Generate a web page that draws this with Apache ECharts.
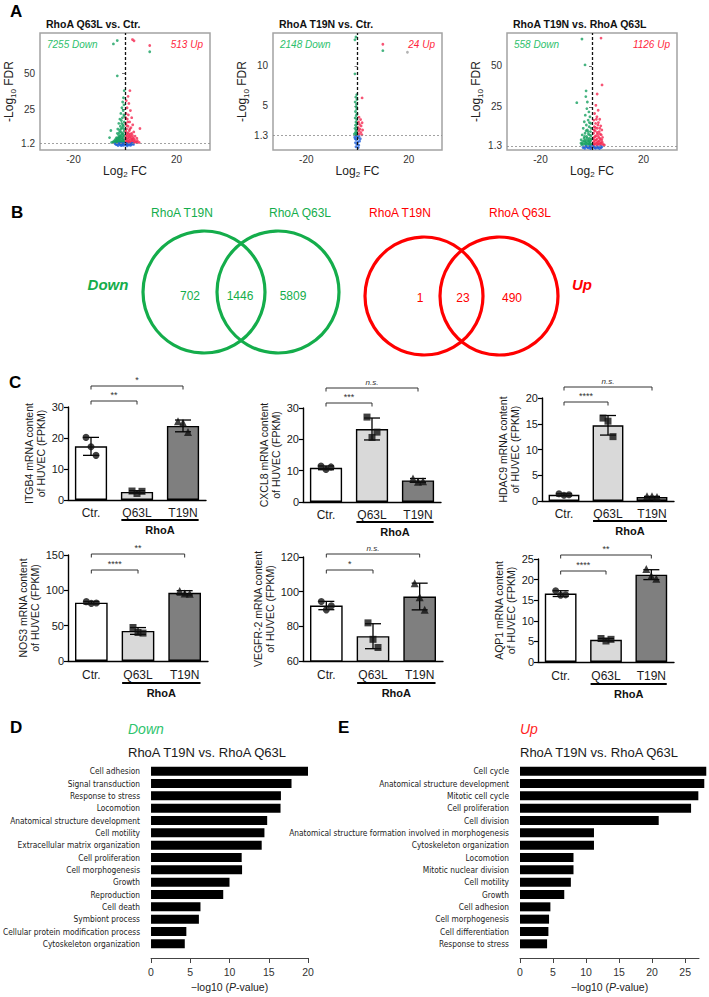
<!DOCTYPE html>
<html><head><meta charset="utf-8">
<script src="https://cdn.jsdelivr.net/npm/echarts@6/dist/echarts.min.js"></script>
<style>html,body{margin:0;padding:0;background:#fff}#c{width:709px;height:997px}</style>
</head><body><div id="c"></div>
<script>
// ================= DATA =================
// ---- Panel A: volcano plots
const volcanoTitles = ['RhoA Q63L vs. Ctr.', 'RhoA T19N vs. Ctr.', 'RhoA T19N vs. RhoA Q63L'];
const volcanoDownCounts = [7255, 2148, 558];
const volcanoUpCounts = [513, 24, 1126];
const volcanoFdrCutoffs = [1.2, 1.3, 1.3];
const volcanoYTicks = [[1.2, 25, 50], [1.3, 5, 10], [1.3, 25, 50]];
const volcanoXTicks = [-20, 20];

const q63lVsCtrDown = [[-0.3,38],[-0.6,33],[-0.9,30],[-0.4,28],[-1.2,26],[-0.7,24],[-1.6,22],[-0.5,21],[-1.0,19],[-2.0,18],[-1.4,17],[-0.3,16],[-2.4,15],[-0.8,14],[-1.8,13],[-1.1,12],[-2.8,11],[-0.5,11],[-2.1,10],[-1.5,9],[-3.0,8],[-0.9,8],[-2.5,7],[-1.9,6],[-0.4,6],[-3.3,5],[-2.7,5],[-1.3,5],[-3.6,4],[-2.2,4],[-0.7,4],[-4.0,3],[-3.0,3],[-1.7,3],[-0.4,3],[-4.4,2.2],[-3.4,2.2],[-2.5,2.2],[-1.5,2.2],[-0.6,2.2],[-5.2,1.6],[-3.9,1.6],[-2.9,1.6],[-2.0,1.6],[-1.1,1.6],[-5.5,10],[-6,5],[-3,73.2],[-4.5,70.8],[-3,48.4],[9.6,65.3],
  [-0.2,20],[-1.3,15],[-0.6,13],[-1.6,11],[-0.3,9.5],[-1.2,7.5],[-2.2,8.5],[-0.6,7],[-1.6,6.5],[-2.3,5.5],[-0.9,5.5],[-3.0,4.2],[-1.9,4.5],[-1.1,3.8],[-2.6,3.2],[-3.6,2.6],[-2.1,2.7],[-0.9,2.7],[-4.6,1.9],[-3.3,1.9],[-1.6,1.8],[-0.4,1.7]];
const q63lVsCtrUp = [[1.9,38],[1.2,34],[0.5,31],[1.5,29],[0.8,26],[2.1,24],[0.4,22],[1.3,21],[2.6,19],[0.9,18],[1.8,16],[0.3,15],[3.0,14],[1.2,13],[2.3,12],[5.8,11.4],[0.6,11],[1.7,10],[3.4,9],[2.6,8],[0.8,8],[1.5,7],[3.9,6],[2.2,6],[0.4,6],[3.1,5],[4.6,4.5],[1.2,5],[2.6,4],[0.6,4],[3.7,3.5],[1.9,3],[4.8,2.8],[3.0,2.5],[1.0,2.5],[4.2,1.8],[2.4,1.8],[0.5,1.8],[5.5,1.6],[3.4,1.5],[1.5,1.5],[2.9,73.9],[3.5,73],[9.6,69.7],
  [0.3,19],[1.1,16],[0.6,13.5],[1.9,11],[0.3,9.5],[1.2,8.5],[2.1,7.5],[0.9,6.5],[2.9,6.5],[1.7,5.5],[0.3,4.5],[2.2,4.6],[3.3,4.2],[1.4,3.7],[2.7,3.1],[0.4,2.8],[1.4,2.1],[3.8,2.3],[2.0,1.5],[4.7,1.6],[0.9,1.6]];
const q63lVsCtrNs = [[-3.8,0.6],[-3,0.2],[-2.4,0.9],[-1.8,-0.2],[-1.2,0.5],[-0.6,-0.5],[0,0.3],[0.6,0.9],[1.2,-0.1],[1.8,0.6],[2.4,0.1],[3.0,0.7],[-2.7,-0.6],[-0.3,1.0],[0.9,-0.7],[2.1,-0.5],
  [-3.4,0.1],[-2.1,0.4],[-1.5,0.9],[-0.9,0.1],[0.3,-0.2],[1.5,0.4],[2.7,1.0],[-1.4,-0.6],[0.4,0.5],[3.3,0.2]];

const t19nVsCtrDown = [[-1,13.25],[-0.6,13.6],[-1,9],[-0.3,6.4],[-0.7,6.1],[-0.2,5.8],[-0.9,5.5],[-0.4,5.2],[-0.6,4.9],[-0.3,4.6],[-0.8,4.3],[-0.2,4.0],[-0.5,3.8],[-0.9,3.5],[-0.3,3.3],[-0.6,3.0],[-0.2,2.8],[-0.8,2.6],[-0.4,2.4],[-1.0,2.2],[-0.6,2.0],[-0.2,1.9],[-0.8,1.7],[-0.4,1.6],[-1.2,1.5],[-0.6,1.4],[-0.3,1.35],[9.9,11.9]];
const t19nVsCtrUp = [[9.9,12.7],[1.8,6.0],[0.6,3.6],[1.2,3.3],[0.4,3.0],[1.8,2.9],[0.8,2.7],[1.4,2.5],[0.3,2.3],[1.0,2.1],[2.0,2.0],[0.5,1.9],[1.3,1.7],[0.7,1.5],[1.7,1.4]];
const t19nVsCtrNs = [[-1.1,1.1],[-0.5,0.8],[0.2,1.0],[0.8,0.6],[-0.8,0.4],[-0.2,0.2],[0.5,0.1],[1.1,0.9],[-0.6,-0.1],[0.1,0.5],[-0.3,1.2],[0.6,1.2],[-0.9,0.9],[0.3,-0.2]];
const t19nVsCtrOther = [[19.5,11.7]];

const t19nVsQ63lDown = [[-3.9,66.3],[-2.7,50.6],[-5.9,27.6],[-2.4,31.3],[-2.3,34.8],[-1.8,28],[-2.0,24],[-1.2,22],[-2.6,20],[-0.8,19],[-1.5,17],[-3.0,16],[-0.5,15],[-2.2,14],[-1.1,13],[-3.4,12],[-1.8,11],[-0.6,10],[-2.7,9],[-1.4,8.5],[-3.8,8],[-0.4,7.5],[-2.1,7],[-3.1,6],[-1.0,6],[-4.2,5],[-2.5,5],[-1.6,4.5],[-0.5,4.5],[-3.6,4],[-2.8,3.5],[-1.2,3.5],[-4.3,3],[-2.0,3],[-0.7,2.8],[-3.3,2.3],[-1.6,2.3],[-0.3,2.2],
  [-1.0,15.5],[-0.4,12],[-1.5,10],[-2.3,10.5],[-0.9,8],[-1.9,6],[-2.9,7],[-0.3,5.5],[-1.3,5],[-3.0,4.5],[-2.2,3.9],[-0.9,3.9],[-3.8,2.8],[-2.6,2.6],[-1.1,2.5],[-4.0,2.0],[-2.3,1.9],[-0.8,1.9]];
const t19nVsQ63lUp = [[3.5,66.9],[3.9,38.4],[2.0,32.9],[1.5,26],[2.4,23],[1.0,21],[1.9,19],[3.0,17.5],[0.7,17],[2.5,15.5],[1.4,15],[3.4,13.5],[0.9,13],[2.0,12],[3.8,11],[1.2,10.5],[2.8,10],[0.6,9],[2.2,8.5],[3.6,8],[1.6,7.5],[4.1,6.5],[0.8,6.5],[2.9,6],[1.9,5.5],[3.8,5],[1.0,4.5],[2.5,4],[4.0,3.5],[0.6,3.5],[1.7,3],[3.2,2.8],[2.4,2.3],[0.9,2.2],[4.4,2.2],[3.6,1.9],
  [1.7,17.5],[2.3,14],[1.3,12.5],[3.0,12],[0.8,11],[2.0,9.5],[3.2,8.5],[1.2,7],[2.5,7],[0.5,5.5],[3.3,5.5],[1.5,4.8],[2.9,4.3],[2.1,3.5],[3.6,3.2],[1.2,2.6],[2.8,2.4],[1.9,1.9],[0.5,1.8],[4.8,1.8]];
const t19nVsQ63lNs = [[-3.1,0.6],[-2.4,1.0],[-1.7,0.3],[-1.0,0.9],[-0.3,0.4],[0.4,1.0],[1.1,0.2],[1.8,0.8],[2.5,0.4],[3.2,0.9],[3.5,0.2],[-2.8,-0.2],[-0.6,-0.3],[1.4,-0.2],[2.9,-0.3],
  [-2.0,0.7],[-1.3,0.1],[0.0,0.8],[0.8,0.5],[2.2,0.1],[3.8,0.7],[-3.5,0.3]];

// ---- Panel B: Venn
const vennSetNames = ['RhoA T19N', 'RhoA Q63L'];
const vennDownCounts = [702, 1446, 5809];
const vennUpCounts = [1, 23, 490];
const vennDirections = ['Down', 'Up'];

// ---- Panel C: bar charts
const barGroups = ['Ctr.', 'Q63L', 'T19N'];
const barGroupLabel = 'RhoA';
const geneNames = ['ITGB4', 'CXCL8', 'HDAC9', 'NOS3', 'VEGFR-2', 'AQP1'];
const itgb4Mean = [17.3, 2.6, 23.9];  const itgb4Sd = [2.9, 0.4, 1.9];
const itgb4Reps = [[20.2, 17.2, 14.4], [2.9, 2.1, 2.8], [25.4, 24.9, 21.9]];
const itgb4Sig = ['**', '*'];
const cxcl8Mean = [10.9, 23.3, 6.9];  const cxcl8Sd = [0.6, 3.5, 0.6];
const cxcl8Reps = [[11.5, 10.4, 11.2], [27.1, 20.6, 22.3], [7.5, 6.5, 6.6]];
const cxcl8Sig = ['***', 'n.s.'];
const hdac9Mean = [1.2, 14.7, 0.8];   const hdac9Sd = [0.2, 1.9, 0.1];
const hdac9Reps = [[1.4, 1.1, 1.2], [16.1, 15.5, 12.5], [0.9, 0.9, 0.8]];
const hdac9Sig = ['****', 'n.s.'];
const nos3Mean = [82.5, 42.5, 96.5];  const nos3Sd = [1.8, 4.8, 3.0];
const nos3Reps = [[84, 81.5, 82], [47.4, 40.3, 39.5], [99, 95.5, 95]];
const nos3Sig = ['****', '**'];
const vegfr2Mean = [92, 74.3, 97.2];  const vegfr2Sd = [2.4, 7.2, 7.7];
const vegfr2Reps = [[94.3, 89.5, 91.8], [82, 72.5, 67.8], [104.8, 96.8, 89.5]];
const vegfr2Sig = ['*', 'n.s.'];
const aqp1Mean = [16.6, 5.4, 21.2];   const aqp1Sd = [0.7, 0.3, 1.2];
const aqp1Reps = [[17.3, 16.2, 16.3], [5.7, 5.1, 5.5], [22.6, 20.9, 20.2]];
const aqp1Sig = ['****', '**'];
const barYAxes = [[0, 30, 10], [0, 30, 10], [0, 20, 5], [0, 150, 50], [60, 120, 20], [0, 25, 5]];

// ---- Panels D / E: GO enrichment
const goComparison = 'RhoA T19N vs. RhoA Q63L';
const downTerms = ['Cell adhesion','Signal transduction','Response to stress','Locomotion','Anatomical structure development','Cell motility','Extracellular matrix organization','Cell proliferation','Cell morphogenesis','Growth','Reproduction','Cell death','Symbiont process','Cellular protein modification process','Cytoskeleton organization'];
const downValues = [20.0, 17.9, 16.55, 16.5, 14.8, 14.45, 14.1, 11.55, 11.6, 10.0, 9.2, 6.3, 6.1, 4.5, 4.3];
const upTerms = ['Cell cycle','Anatomical structure development','Mitotic cell cycle','Cell proliferation','Cell division','Anatomical structure formation involved in morphogenesis','Cytoskeleton organization','Locomotion','Mitotic nuclear division','Cell motility','Growth','Cell adhesion','Cell morphogenesis','Cell differentiation','Response to stress'];
const upValues = [28.2, 27.9, 27.0, 25.9, 21.0, 11.2, 11.2, 8.1, 8.1, 7.7, 6.7, 4.6, 4.4, 4.3, 4.1];
const goXTicksDown = [0, 5, 10, 15, 20];
const goXTicksUp = [0, 5, 10, 15, 20, 25];

// ================= STYLE / LAYOUT =================
const FONT = 'Liberation Sans, Arial, Helvetica, sans-serif';
const NARROW = 'Liberation Sans Narrow, Arial Narrow, DejaVu Sans Condensed, Liberation Sans, sans-serif';
const GREEN = '#14ad4b', RED = '#ff0000';
const volcanoColors = {down: '#17a060', up: '#f52a52', ns: '#1e5fd8', other: '#a0a0a0', downText: '#2dbf6c', upText: '#ff1f3d'};
const volcanoGrids = [
  {left: 40, top: 33, width: 170, height: 117},
  {left: 273, top: 33, width: 169, height: 117},
  {left: 507, top: 33, width: 170, height: 117}
];
const volcanoYRanges = [[-3.7, 78.5], [-0.5, 14.1], [-1.2, 70]];
const barGrids = [
  {left: 68, top: 407, width: 138, height: 93},
  {left: 303, top: 408, width: 138, height: 94},
  {left: 542, top: 398, width: 132, height: 103},
  {left: 68, top: 555, width: 140, height: 106},
  {left: 303, top: 557, width: 140, height: 104},
  {left: 538, top: 559, width: 136, height: 103}
];
const barFills = ['#ffffff', '#d9d9d9', '#7f7f7f'];
const barSymbols = ['circle', 'rect', 'triangle'];
const jitterPx = [-5, 0, 5];
const rowBracketOffsets = [[99, 114], [91, 107]];
const rowLabelMargin = [7, 8];
const rowGroupLine = [[20, 30], [22, 32]];

const option = {animation: false, backgroundColor: '#ffffff', textStyle: {fontFamily: FONT},
  grid: [], xAxis: [], yAxis: [], series: [], graphic: []};

function addCartesian(g, x, y) {
  const gi = option.grid.length;
  option.grid.push(Object.assign({containLabel: false}, g));
  option.xAxis.push(Object.assign({gridIndex: gi}, x));
  option.yAxis.push(Object.assign({gridIndex: gi}, y));
  return gi;
}
function addText(x, y, text, style) {
  option.graphic.push({type: 'text', x: x, y: y, silent: true,
    style: Object.assign({text: String(text), fontFamily: FONT, fill: '#111', align: 'left', verticalAlign: 'middle', fontSize: 12}, style)});
}

// Panel letters
[['A', 10, 11], ['B', 11, 212], ['C', 9, 382], ['D', 10, 727], ['E', 338, 727]].forEach(p =>
  addText(p[1], p[2], p[0], {fontSize: 17, fontWeight: 'bold', fill: '#000'}));

// ---------- Panel A ----------
const subRich = {
  t: {fontSize: 12, lineHeight: 16, color: '#222', fontFamily: FONT},
  s: {fontSize: 8, lineHeight: 9, verticalAlign: 'bottom', color: '#222', fontFamily: FONT}
};
const volcanoSets = [
  {down: q63lVsCtrDown, up: q63lVsCtrUp, ns: q63lVsCtrNs, other: []},
  {down: t19nVsCtrDown, up: t19nVsCtrUp, ns: t19nVsCtrNs, other: t19nVsCtrOther},
  {down: t19nVsQ63lDown, up: t19nVsQ63lUp, ns: t19nVsQ63lNs, other: []}
];
volcanoSets.forEach((set, k) => {
  const g = volcanoGrids[k];
  const gi = addCartesian(
    Object.assign({show: true, borderColor: '#a3a3a3', borderWidth: 1.5, backgroundColor: '#fff'}, g),
    {type: 'value', min: -33, max: 33, splitLine: {show: false}, axisLine: {show: false},
      axisTick: {show: false, customValues: volcanoXTicks},
      axisLabel: {customValues: volcanoXTicks, fontSize: 10, color: '#333', margin: 4},
      name: '{t|Log}{s|2}{t| FC}', nameLocation: 'middle', nameGap: 11, nameTextStyle: {rich: subRich}},
    {type: 'value', min: volcanoYRanges[k][0], max: volcanoYRanges[k][1], splitLine: {show: false}, axisLine: {show: false},
      axisTick: {show: true, customValues: volcanoYTicks[k], length: 3, lineStyle: {color: '#777'}},
      axisLabel: {customValues: volcanoYTicks[k], fontSize: 10, color: '#333', margin: 5},
      name: '{t|-Log}{s|10}{t| FDR}', nameLocation: 'middle', nameGap: 20, nameTextStyle: {rich: subRich}}
  );
  const base = {type: 'scatter', xAxisIndex: gi, yAxisIndex: gi, symbolSize: 2.8, silent: true};
  option.series.push(Object.assign({}, base, {data: set.other, itemStyle: {color: volcanoColors.other}}));
  option.series.push(Object.assign({}, base, {data: set.down, itemStyle: {color: volcanoColors.down}}));
  option.series.push(Object.assign({}, base, {data: set.up, itemStyle: {color: volcanoColors.up}}));
  option.series.push(Object.assign({}, base, {data: set.ns, itemStyle: {color: volcanoColors.ns}, z: 3,
    markLine: {silent: true, symbol: ['none', 'none'], label: {show: false}, animation: false,
      data: [
        {xAxis: 0, lineStyle: {color: '#111', type: [3, 2], width: 1.3}},
        {yAxis: volcanoFdrCutoffs[k], lineStyle: {color: '#8a8a8a', type: [2, 2], width: 0.8}}
      ]}}));
  addText(g.left + 6, g.top - 9, volcanoTitles[k], {fontSize: 10.5, fontWeight: 'bold', fill: '#111'});
  addText(g.left + 7, g.top + 11, volcanoDownCounts[k] + ' Down', {fontSize: 10, fontStyle: 'italic', fill: volcanoColors.downText});
  addText(g.left + g.width - 7, g.top + 11, volcanoUpCounts[k] + ' Up', {fontSize: 10, fontStyle: 'italic', fill: volcanoColors.upText, align: 'right'});
});

// ---------- Panel B ----------
const vennLayout = [
  {color: GREEN, centers: [[204, 292], [278, 292]], r: 61, headerX: [182, 300], headerY: 213, countX: [190, 240, 293], countY: 296, dirX: 108, dirY: 284, counts: vennDownCounts},
  {color: RED, centers: [[424, 296], [499, 296]], r: 59, headerX: [400, 520], headerY: 213, countX: [420, 463, 512], countY: 298, dirX: 582, dirY: 284, counts: vennUpCounts}
];
vennLayout.forEach((v, k) => {
  v.centers.forEach(c => option.graphic.push({type: 'circle', silent: true, shape: {cx: c[0], cy: c[1], r: v.r},
    style: {fill: 'none', stroke: v.color, lineWidth: 3.2}}));
  vennSetNames.forEach((n, i) => addText(v.headerX[i], v.headerY, n, {fill: v.color, align: 'center', fontSize: 12}));
  v.counts.forEach((n, i) => addText(v.countX[i], v.countY, n, {fill: v.color, align: 'center', fontSize: 12}));
  addText(v.dirX, v.dirY, vennDirections[k], {fill: v.color, align: 'center', fontSize: 15, fontWeight: 'bold', fontStyle: 'italic'});
});

// ---------- Panel C ----------
const barCharts = [
  {mean: itgb4Mean, sd: itgb4Sd, reps: itgb4Reps, sig: itgb4Sig},
  {mean: cxcl8Mean, sd: cxcl8Sd, reps: cxcl8Reps, sig: cxcl8Sig},
  {mean: hdac9Mean, sd: hdac9Sd, reps: hdac9Reps, sig: hdac9Sig},
  {mean: nos3Mean, sd: nos3Sd, reps: nos3Reps, sig: nos3Sig},
  {mean: vegfr2Mean, sd: vegfr2Sd, reps: vegfr2Reps, sig: vegfr2Sig},
  {mean: aqp1Mean, sd: aqp1Sd, reps: aqp1Reps, sig: aqp1Sig}
];
barCharts.forEach((bc, k) => {
  const row = k < 3 ? 0 : 1;
  const ax = barYAxes[k];
  const gi = addCartesian(barGrids[k],
    {type: 'category', data: barGroups, axisTick: {show: false},
      axisLine: {lineStyle: {color: '#000', width: 1.4}},
      axisLabel: {fontSize: 12, color: '#1a1a1a', margin: rowLabelMargin[row]}},
    {type: 'value', min: ax[0], max: ax[1], interval: ax[2], splitLine: {show: false},
      axisLine: {show: true, lineStyle: {color: '#000', width: 1.4}},
      axisTick: {show: true, length: 4, lineStyle: {color: '#000', width: 1.2}},
      axisLabel: {fontSize: 11, color: '#1a1a1a', margin: 4},
      name: geneNames[k] + ' mRNA content\nof HUVEC (FPKM)', nameLocation: 'middle', nameGap: 20.5,
      nameTextStyle: {fontSize: 10.5, lineHeight: 12.5, color: '#1a1a1a'}});
  option.series.push({type: 'bar', xAxisIndex: gi, yAxisIndex: gi, barWidth: '70%', silent: true, z: 2,
    data: bc.mean.map((m, i) => ({value: m, itemStyle: {color: barFills[i], borderColor: '#000', borderWidth: 1.4}}))});
  option.series.push({type: 'custom', xAxisIndex: gi, yAxisIndex: gi, silent: true, z: 3, clip: false,
    data: bc.mean.map((m, i) => [i, m - bc.sd[i], m + bc.sd[i]]),
    renderItem: (params, api) => {
      const lo = api.coord([api.value(0), api.value(1)]);
      const hi = api.coord([api.value(0), api.value(2)]);
      const w = 8, st = {stroke: '#000', lineWidth: 1.3};
      return {type: 'group', children: [
        {type: 'line', shape: {x1: lo[0], y1: lo[1], x2: hi[0], y2: hi[1]}, style: st},
        {type: 'line', shape: {x1: hi[0] - w, y1: hi[1], x2: hi[0] + w, y2: hi[1]}, style: st},
        {type: 'line', shape: {x1: lo[0] - w, y1: lo[1], x2: lo[0] + w, y2: lo[1]}, style: st}
      ]};
    }});
  bc.reps.forEach((reps, gIdx) => {
    option.series.push({type: 'scatter', xAxisIndex: gi, yAxisIndex: gi, silent: true, z: 4,
      symbol: barSymbols[gIdx], symbolSize: gIdx === 2 ? 8 : 7, itemStyle: {color: '#111'},
      data: reps.map((v, j) => ({value: [gIdx, v], symbolOffset: [jitterPx[j], 0]}))});
  });
  const offs = rowBracketOffsets[row];
  option.series.push({type: 'custom', xAxisIndex: gi, yAxisIndex: gi, silent: true, clip: false, z: 5,
    data: [[0, 1, 0], [0, 2, 1]],
    renderItem: (params, api) => {
      const cs = params.coordSys;
      const y = cs.y + cs.height - offs[api.value(2)];
      const x1 = api.coord([api.value(0), ax[0]])[0], x2 = api.coord([api.value(1), ax[0]])[0];
      const t = bc.sig[params.dataIndex];
      return {type: 'group', children: [
        {type: 'polyline', shape: {points: [[x1, y + 3.5], [x1, y], [x2, y], [x2, y + 3.5]]}, style: {stroke: '#333', fill: null, lineWidth: 1}},
        {type: 'text', style: {text: t, x: (x1 + x2) / 2, y: y - 1.5, align: 'center', verticalAlign: 'bottom',
          fontSize: t === 'n.s.' ? 8 : 9, fontStyle: t === 'n.s.' ? 'italic' : 'normal', fill: '#333', fontFamily: FONT}}
      ]};
    }});
  const gl = rowGroupLine[row];
  option.series.push({type: 'custom', xAxisIndex: gi, yAxisIndex: gi, silent: true, clip: false, z: 5,
    data: [[1, 2]],
    renderItem: (params, api) => {
      const cs = params.coordSys;
      const band = api.size([1, 0])[0];
      const x1 = api.coord([api.value(0), ax[0]])[0] - band * 0.34;
      const x2 = api.coord([api.value(1), ax[0]])[0] + band * 0.34;
      const yb = cs.y + cs.height;
      return {type: 'group', children: [
        {type: 'line', shape: {x1: x1, y1: yb + gl[0], x2: x2, y2: yb + gl[0]}, style: {stroke: '#000', lineWidth: 2}},
        {type: 'text', style: {text: barGroupLabel, x: (x1 + x2) / 2, y: yb + gl[1], align: 'center', verticalAlign: 'middle',
          fontSize: 11, fontWeight: 'bold', fill: '#111', fontFamily: FONT}}
      ]};
    }});
});

// ---------- Panels D / E ----------
const goPanels = [
  {terms: downTerms, values: downValues, grid: {left: 128, top: 765, width: 180, height: 185}, max: 20, ticks: goXTicksDown,
    dir: 'Down', dirColor: '#2ec46e'},
  {terms: upTerms, values: upValues, grid: {left: 520, top: 765, width: 179, height: 185}, max: 27.1, ticks: goXTicksUp,
    dir: 'Up', dirColor: '#ff1e1e'}
];
goPanels.forEach(p => {
  const gi = addCartesian(p.grid,
    {type: 'value', min: 0, max: p.max, offset: 8, splitLine: {show: false},
      axisLine: {show: true, lineStyle: {color: '#444', width: 1}},
      axisTick: {show: true, customValues: p.ticks, length: 5, lineStyle: {color: '#444'}},
      axisLabel: {customValues: p.ticks, fontSize: 10.5, color: '#333', margin: 8},
      name: '\u2212log10 ({i|P}-value)', nameLocation: 'middle', nameGap: 23,
      nameTextStyle: {fontSize: 10.5, color: '#222', rich: {i: {fontStyle: 'italic', fontSize: 10.5, color: '#222'}}}},
    {type: 'category', data: p.terms, inverse: true, axisLine: {show: false}, axisTick: {show: false},
      axisLabel: {fontSize: 8.3, fontFamily: NARROW, color: '#222', margin: 11}});
  option.series.push({type: 'bar', xAxisIndex: gi, yAxisIndex: gi, data: p.values, barWidth: '73%', clip: false,
    silent: true, itemStyle: {color: '#000'}});
  addText(p.grid.left, 729, p.dir, {fontSize: 14, fontStyle: 'italic', fill: p.dirColor});
  addText(p.grid.left, 752, goComparison, {fontSize: 13, fill: '#1a1a1a'});
});

const chart = echarts.init(document.getElementById('c'), null, {renderer: 'svg', width: 709, height: 997});
chart.setOption(option);
</script></body></html>
